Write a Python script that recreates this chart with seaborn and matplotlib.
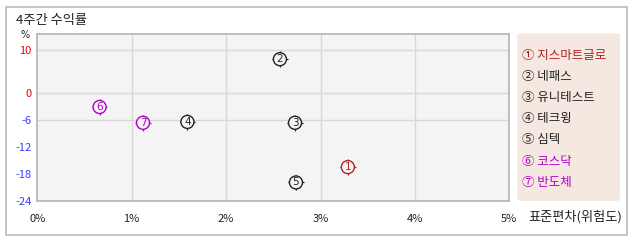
import numpy as np
import pandas as pd
import matplotlib
matplotlib.use("Agg")
import matplotlib.pyplot as plt
from matplotlib.patches import FancyBboxPatch, Rectangle
import seaborn as sns

# ---- data ----
nums = ["1", "2", "3", "4", "5", "6", "7"]
names = ["지스마트글로", "네패스", "유니테스트", "테크윙", "심텍", "코스닥", "반도체"]
risk = [3.29, 2.57, 2.73, 1.59, 2.74, 0.66, 1.12]        # 표준편차 (%)
ret = [-16.5, 7.9, -6.7, -6.5, -19.9, -3.2, -6.7]         # 4주간 수익률 (%)
colors = ["#b22222", "#222222", "#222222", "#222222", "#222222", "#b000c8", "#b000c8"]
legend_colors = ["#b02020", "#222222", "#222222", "#222222", "#222222", "#b000c8", "#b000c8"]
circled = ["①", "②", "③", "④", "⑤", "⑥", "⑦"]
xticks = [0, 1, 2, 3, 4, 5]
xticklabels = ["0%", "1%", "2%", "3%", "4%", "5%"]
yticks = [10, 0, -6, -12, -18, -24]
ygrid = [10, 0, -6]

sns.set_style("white")
plt.rcParams["font.family"] = ["Noto Sans CJK KR", "DejaVu Sans"]

W, H = 638, 242
fig = plt.figure(figsize=(W / 100, H / 100), dpi=100)

def px(x, y):
    return x / W, 1 - y / H

# outer border
fig.patches.append(Rectangle(px(6, 235), (627 - 6) / W, (235 - 6.7) / H,
                             transform=fig.transFigure, fill=False,
                             edgecolor="#bbbbbb", linewidth=1.2))

x0, x1 = 37.3, 509.3
ytop, ybot = 34.3, 201
ax = fig.add_axes([x0 / W, 1 - ybot / H, (x1 - x0) / W, (ybot - ytop) / H])
ax.set_facecolor("#f4f4f4")

k = 4.2 / 4.5
ax.set_yscale("function", functions=(lambda y: np.where(y > 0, y * k, y),
                                     lambda y: np.where(y > 0, y / k, y)))
ax.set_xlim(0, 5)
ax.set_ylim(-24, 13.8)

for xv in xticks[1:-1]:
    ax.axvline(xv, color="#d8d8d8", lw=1, zorder=0)
for yv in ygrid:
    ax.axhline(yv, color="#d8d8d8", lw=1, zorder=0)

df = pd.DataFrame({"risk": risk, "ret": ret, "num": nums})

# cross ticks under the circles
sns.scatterplot(data=df, x="risk", y="ret", marker="+", s=125, linewidth=0.9,
                color="#222222", ax=ax, legend=False, zorder=2)
ax.collections[-1].set_edgecolors(colors)
ax.collections[-1].set_facecolors(colors)
sns.scatterplot(data=df, x="risk", y="ret", marker="o", s=88, linewidth=1.0,
                color="#f4f4f4", ax=ax, legend=False, zorder=3)
ax.collections[-1].set_edgecolors(colors)
ax.collections[-1].set_facecolors("#f4f4f4")

for r, v, n, c in zip(df["risk"], df["ret"], df["num"], colors):
    ax.text(r, v, n, color=c, fontsize=7.5, ha="center", va="center",
            zorder=4, family="DejaVu Sans")

ax.set_xticks(xticks)
ax.set_xticklabels(xticklabels)
ax.set_yticks(yticks)
ax.set_yticklabels([str(t) for t in yticks])
ax.tick_params(axis="both", length=0, labelsize=8)
ax.tick_params(axis="x", pad=9, colors="#222222")
ax.tick_params(axis="y", pad=4)
for lab, t in zip(ax.get_yticklabels(), yticks):
    lab.set_color("#ee0000" if t >= 0 else "#3b3bff")
for lab in ax.get_xticklabels():
    lab.set_color("#222222")
ax.set_xlabel("")
ax.set_ylabel("")
for s in ax.spines.values():
    s.set_color("#b4b4b4")
    s.set_linewidth(1.2)

# title and unit
fig.text(*px(16.5, 20.5), "4주간 수익률", fontsize=9.5, ha="left", va="center", color="#222222")
fig.text(*px(25, 35), "%", fontsize=7, ha="center", va="center", color="#222222",
         family="DejaVu Sans")
fig.text(*px(622, 216.5), "표준편차(위험도)", fontsize=9.5, ha="right", va="center",
         color="#222222")

# legend box
lx0, ly0, lx1, ly1 = 517.3, 33.3, 620, 201
fig.patches.append(FancyBboxPatch(px(lx0, ly1), (lx1 - lx0) / W, (ly1 - ly0) / H,
                                  boxstyle="round,pad=0,rounding_size=0.008",
                                  transform=fig.transFigure,
                                  facecolor="#f5e8e1", edgecolor="none"))
ly = [55, 76.5, 97.7, 118.7, 139.5, 161, 182.3]
for c, n, col, yy in zip(circled, names, legend_colors, ly):
    fig.text(*px(521.5, yy), c + " " + n, fontsize=9, ha="left", va="center", color=col)

fig.savefig("out.png", dpi=100)
